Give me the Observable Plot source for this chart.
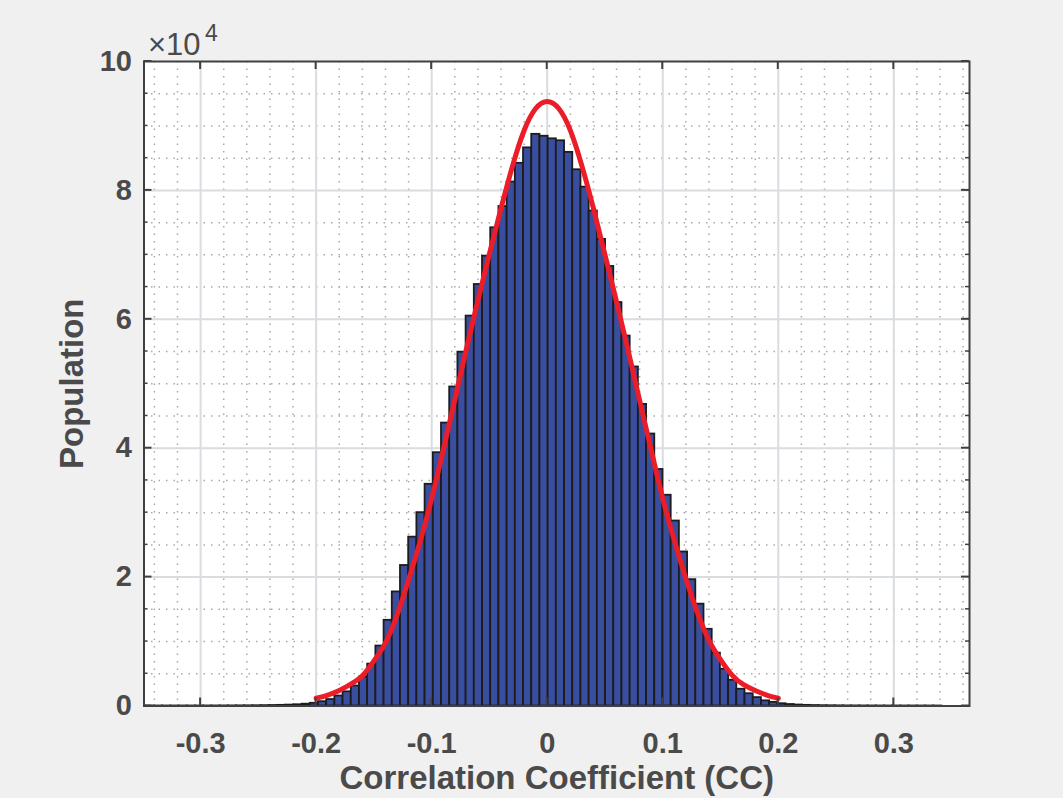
<!DOCTYPE html>
<html><head><meta charset="utf-8">
<script src="https://cdn.jsdelivr.net/npm/d3@7"></script>
<script src="https://cdn.jsdelivr.net/npm/@observablehq/plot@0.6"></script>
<style>
html,body{margin:0;padding:0;background:#f0f0f0;}
#chart svg{display:block;}
</style></head><body><div id="chart"></div>
<script>
// ---- histogram definition (bin k spans [binOrigin + k*binWidth, binOrigin + (k+1)*binWidth]) ----
const binOrigin = 0.0008;
const binWidth = 0.0071;
const firstBinIndex = -49;
// population per bin, bins k = -49 ... 50
const counts = [
  1, 1, 2, 2, 3, 4, 5, 7, 9,
  12, 16, 22, 30, 40, 55, 75, 100, 140, 190, 280, 420,
  670, 1000, 1550, 2200, 3100, 4500, 6500, 9300, 13300, 17700,
  21800, 26200, 30000, 34400, 39300, 43900, 49500, 54900, 60500, 65400,
  69800, 74200, 77500, 81300, 84200, 86600, 88700, 88400,
  88000, 87700, 85900, 83200, 80500, 76800, 72400, 68200, 62600, 57400,
  52600, 46800, 42200, 36700, 32700, 28700, 23900, 19600, 15800, 11900,
  8200, 5700, 4000, 2600, 1900, 1300, 800, 570, 350, 230,
  150, 100, 70, 50, 35, 25, 18, 13, 9, 7,
  5, 4, 3, 2, 2, 1, 1, 1, 0, 0, 0
];
// fitted normal curve (red)
const fitX = [-0.20,-0.19,-0.18,-0.17,-0.16,-0.15,-0.14,-0.13,-0.12,-0.11,-0.10,-0.09,-0.08,-0.07,-0.06,-0.05,-0.04,-0.03,-0.02,-0.01,
  0.00,0.01,0.02,0.03,0.04,0.05,0.06,0.07,0.08,0.09,0.10,0.11,0.12,0.13,0.14,0.15,0.16,0.17,0.18,0.19,0.20];
const fitY = [1200,1700,2400,3400,4700,7000,9800,14100,19600,25500,32200,39700,47500,55400,62900,70200,77200,83800,89300,92700,
  93800,92700,89300,83800,77200,70000,62700,55200,47400,39700,32200,25700,19800,14500,10200,7200,4800,3300,2400,1700,1200];
// axis ticks
const xTicks = [-0.3,-0.2,-0.1,0,0.1,0.2,0.3];
const xTickLabels = ["-0.3","-0.2","-0.1","0","0.1","0.2","0.3"];
const xMinor = [-0.34,-0.32,-0.28,-0.26,-0.24,-0.22,-0.18,-0.16,-0.14,-0.12,-0.08,-0.06,-0.04,-0.02,
  0.02,0.04,0.06,0.08,0.12,0.14,0.16,0.18,0.22,0.24,0.26,0.28,0.32,0.34,0.36];
const yTicks = [0,20000,40000,60000,80000,100000];
const yTickLabels = ["0","2","4","6","8","10"];
const yMinor = [5000,10000,15000,25000,30000,35000,45000,50000,55000,65000,70000,75000,85000,90000,95000];
const xLabel = "Correlation Coefficient (CC)";
const yLabel = "Population";
const exponentBase = "\u00d710";
const exponent = "4";

const bins = counts.map((c, i) => {
  const k = firstBinIndex + i;
  return {x1: binOrigin + k * binWidth, x2: binOrigin + (k + 1) * binWidth, count: c};
});
const fit = fitX.map((x, i) => ({x, y: fitY[i]}));

const axisColor = "#404040";
const textColor = "#4a4a4a";
const font = "'Liberation Sans', Arial, Helvetica, sans-serif";

function innerTicks(index, scales, values, dims) {
  const {x, y} = scales;
  const left = dims.marginLeft, right = dims.width - dims.marginRight;
  const top = dims.marginTop, bottom = dims.height - dims.marginBottom;
  const g = d3.create("svg:g").attr("stroke", axisColor).attr("stroke-width", 2);
  for (const t of xTicks) {
    const px = x(t);
    g.append("line").attr("x1", px).attr("x2", px).attr("y1", bottom).attr("y2", bottom - 8);
    g.append("line").attr("x1", px).attr("x2", px).attr("y1", top).attr("y2", top + 8);
  }
  for (const t of yTicks) {
    const py = y(t);
    g.append("line").attr("y1", py).attr("y2", py).attr("x1", left).attr("x2", left + 8);
    g.append("line").attr("y1", py).attr("y2", py).attr("x1", right).attr("x2", right - 8);
  }
  for (const t of yMinor) {
    const py = y(t);
    g.append("line").attr("y1", py).attr("y2", py).attr("x1", left).attr("x2", left + 4).attr("stroke-width", 1.5);
    g.append("line").attr("y1", py).attr("y2", py).attr("x1", right).attr("x2", right - 4).attr("stroke-width", 1.5);
  }
  return g.node();
}

const chart = Plot.plot({
  width: 1063,
  height: 798,
  marginLeft: 143.5,
  marginRight: 94,
  marginTop: 61,
  marginBottom: 92.5,
  style: {background: "#f0f0f0", fontFamily: font, color: textColor, overflow: "visible"},
  x: {domain: [-0.349, 0.3655], axis: null},
  y: {domain: [0, 100000], axis: null},
  marks: [
    Plot.frame({fill: "white", stroke: null}),
    Plot.ruleX(xMinor, {stroke: "#a9a9a9", strokeWidth: 1.5, strokeDasharray: "1.5,6"}),
    Plot.ruleY(yMinor, {stroke: "#a9a9a9", strokeWidth: 1.5, strokeDasharray: "1.5,6"}),
    Plot.ruleX(xTicks, {stroke: "#d9dce0", strokeWidth: 2}),
    Plot.ruleY(yTicks.slice(1, -1), {stroke: "#d9dce0", strokeWidth: 2}),
    Plot.rect(bins, {x1: "x1", x2: "x2", y1: 0, y2: "count", fill: "#3a4ea0", stroke: "#1c1c1c", strokeWidth: 1.8}),
    Plot.line(fit, {x: "x", y: "y", stroke: "#ea1d28", strokeWidth: 5, curve: "natural"}),
    innerTicks,
    Plot.frame({stroke: axisColor, strokeWidth: 2}),
    Plot.text(xTicks, {x: d => d, frameAnchor: "bottom", text: (d, i) => xTickLabels[i], dy: 38, fontSize: 29, fontWeight: "bold", fill: textColor, lineAnchor: "middle"}),
    Plot.text(yTicks, {y: d => d, frameAnchor: "left", text: (d, i) => yTickLabels[i], dx: -12, fontSize: 29, fontWeight: "bold", fill: textColor, textAnchor: "end"}),
    Plot.text([xLabel], {frameAnchor: "bottom", text: d => d, dy: 72, fontSize: 33, fontWeight: "bold", fill: textColor, lineAnchor: "middle"}),
    Plot.text([yLabel], {frameAnchor: "left", text: d => d, dx: -72, rotate: -90, fontSize: 33, fontWeight: "bold", fill: textColor, textAnchor: "middle", lineAnchor: "middle"}),
    Plot.text([exponentBase], {frameAnchor: "top-left", text: d => d, dx: 4, dy: -7, fontSize: 31, fill: textColor, textAnchor: "start", lineAnchor: "bottom"}),
    Plot.text([exponent], {frameAnchor: "top-left", text: d => d, dx: 61, dy: -21, fontSize: 23, fill: textColor, textAnchor: "start", lineAnchor: "bottom"})
  ]
});
document.getElementById("chart").append(chart);
</script>
</body></html>
